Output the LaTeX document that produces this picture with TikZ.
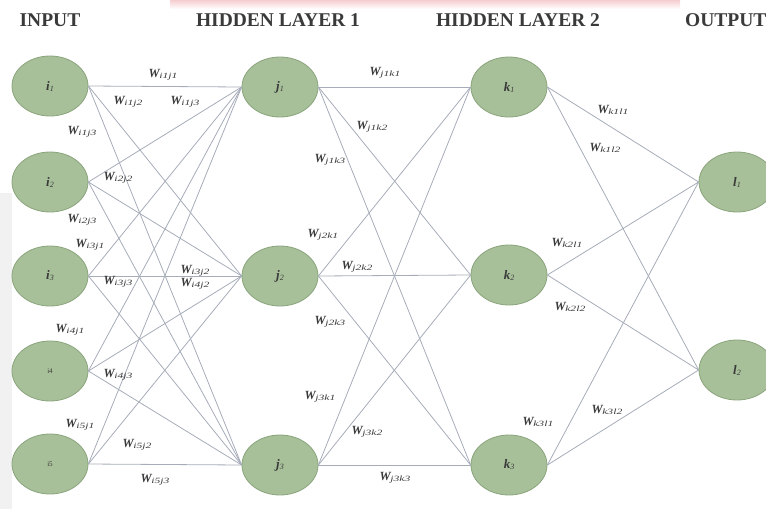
\documentclass[tikz,border=0pt]{standalone}
\usepackage{fontspec}
\setmainfont{Liberation Serif}
\usetikzlibrary{shapes.geometric}
\definecolor{nodefill}{HTML}{A7C099}
\definecolor{nodeedge}{HTML}{8AA47C}
\definecolor{wirecol}{HTML}{A6ACB8}
\definecolor{txt}{HTML}{3A3A3A}
\definecolor{pinkband}{HTML}{F6CDD0}
\definecolor{sidegray}{HTML}{F1F1F1}
\newcommand{\Wlab}[1]{{\fontsize{12.5}{13}\selectfont\bfseries\itshape W}\kern-0.5pt\raisebox{-1pt}{\scalebox{1.45}[1]{\fontsize{8}{8}\selectfont\itshape #1}}}
\newcommand{\Nlab}[2]{{\fontsize{13}{13}\selectfont\bfseries\itshape #1}\raisebox{-1pt}{\fontsize{8}{8}\selectfont\itshape #2}}
\newcommand{\Slab}[1]{{\fontsize{7}{7}\selectfont #1}}
\tikzset{
  neuron/.style={ellipse, draw=nodeedge, line width=0.8pt, fill=nodefill,
    minimum width=76pt, minimum height=60pt, inner sep=0pt, text=txt},
  wire/.style={draw=wirecol, line width=0.8pt},
  wl/.style={text=txt, inner sep=0pt},
  title/.style={text=txt, inner sep=0pt, font=\fontsize{19.5}{20}\selectfont\bfseries}
}
\begin{document}
\begin{tikzpicture}[x=1pt, y=-1pt]
\useasboundingbox (0,0) rectangle (766,509);
% background artifacts
\shade[top color=pinkband, bottom color=white] (170,0) rectangle (680,9);
\fill[sidegray] (0,193) rectangle (12,509);
% titles
\node[title] (tin) at (50,20.5) {INPUT};
\node[title] (th1) at (278,20.5) {HIDDEN LAYER 1};
\node[title] (th2) at (518,20.5) {HIDDEN LAYER 2};
\node[title, anchor=west] (tout) at (685,20.5) {OUTPUT};
% neurons
\node[neuron] (i1) at (50,86) {\Nlab{i}{1}};
\node[neuron] (i2) at (50,182) {\Nlab{i}{2}};
\node[neuron] (i3) at (50,276) {\Nlab{i}{3}};
\node[neuron] (i4) at (50,371) {\Slab{i4}};
\node[neuron] (i5) at (50,464) {\Slab{i5}};
\node[neuron] (j1) at (280,87) {\Nlab{j}{1}};
\node[neuron] (j2) at (280,276) {\Nlab{j}{2}};
\node[neuron] (j3) at (280,465) {\Nlab{j}{3}};
\node[neuron] (k1) at (509,87) {\Nlab{k}{1}};
\node[neuron] (k2) at (509,275) {\Nlab{k}{2}};
\node[neuron] (k3) at (509,465) {\Nlab{k}{3}};
\node[neuron] (l1) at (737,182) {\Nlab{l}{1}};
\node[neuron] (l2) at (737,370) {\Nlab{l}{2}};
% connectors
\foreach \a in {i1,i2,i3,i4,i5}
  \foreach \b in {j1,j2,j3}
    \draw[wire] (\a.east) -- (\b.west);
\foreach \a in {j1,j2,j3}
  \foreach \b in {k1,k2,k3}
    \draw[wire] (\a.east) -- (\b.west);
\foreach \a in {k1,k2,k3}
  \foreach \b in {l1,l2}
    \draw[wire] (\a.east) -- (\b.west);
% weight labels
\foreach \n/\t/\x/\y in {
  a/i1j1/163/75, b/i1j2/128/102, c/i1j3/185/102, d/i1j3/82/132,
  e/i2j2/118/178, f/i2j3/82/220, g/i3j1/90/245, h/i3j2/195/271,
  m/i4j2/195/284, n/i3j3/118/282, o/i4j1/70/330, p/i4j3/118/375,
  q/i5j1/80/425, r/i5j2/137/445, s/i5j3/155/480,
  t/j1k1/385/73, u/j1k2/372/127, v/j1k3/330/160,
  w/j2k1/323/235, x/j2k2/357/267, y/j2k3/330/322,
  z/j3k1/320/397, aa/j3k2/367/432, ab/j3k3/395/478,
  ac/k1l1/613/110, ad/k1l2/605/148, ae/k2l1/567/243,
  af/k2l2/570/307, ag/k3l2/607/410, ah/k3l1/538/422}
  \node[wl] (w\n) at (\x,\y) {\Wlab{\t}};
\end{tikzpicture}
\end{document}
